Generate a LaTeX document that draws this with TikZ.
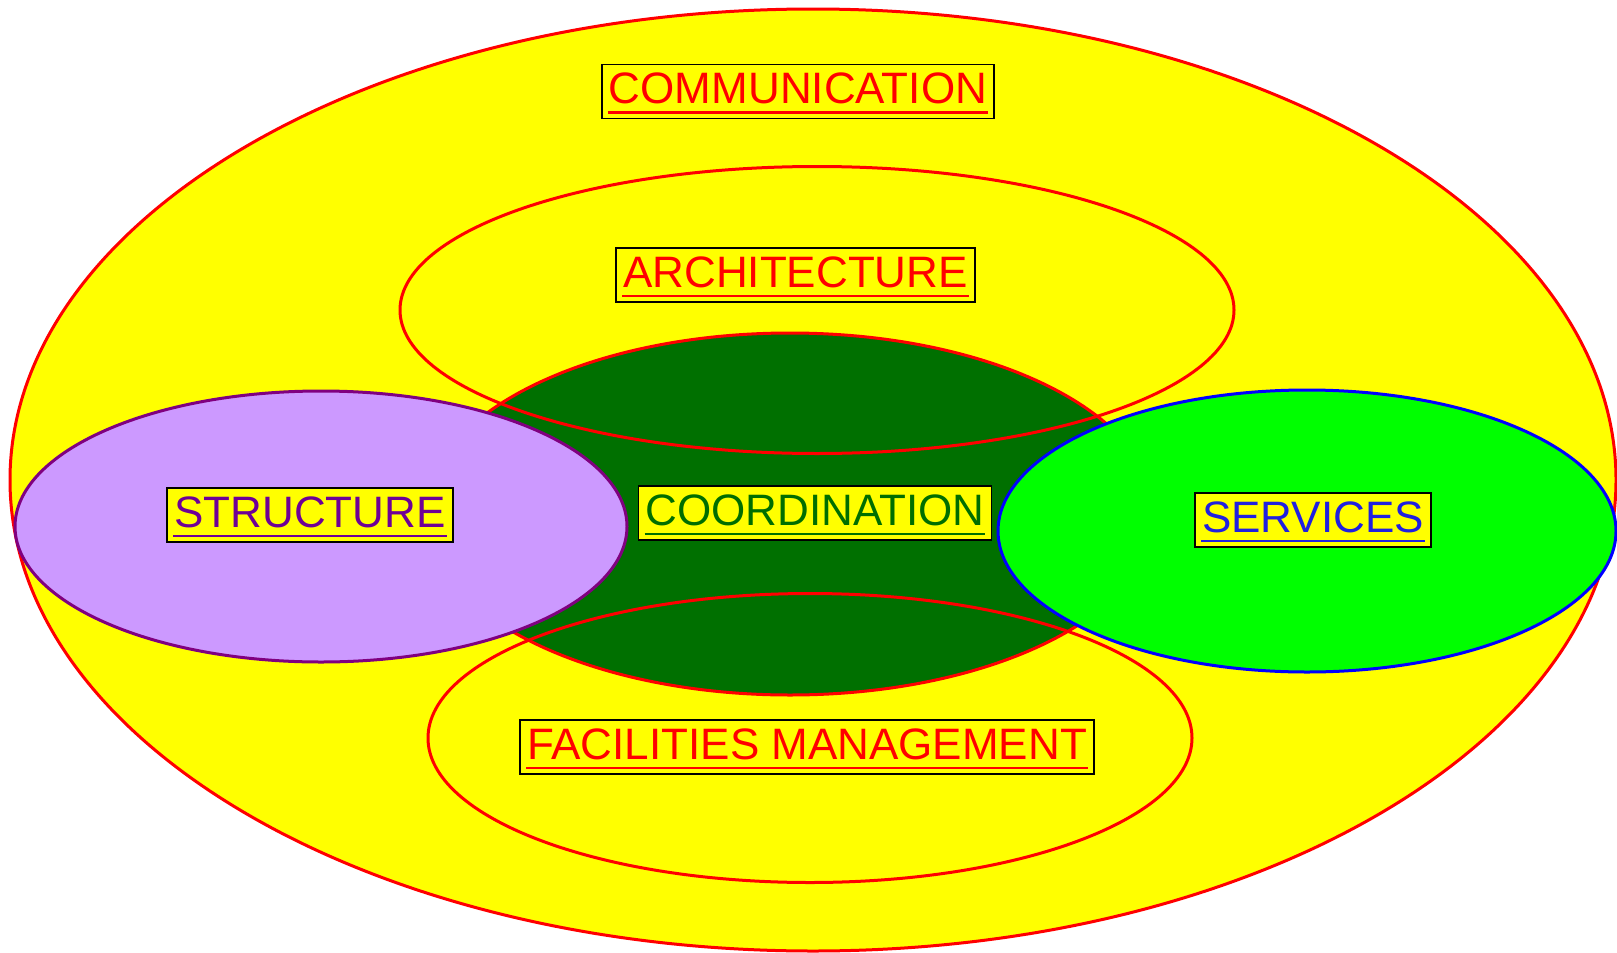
\documentclass[tikz,border=0pt]{standalone}
\usepackage{fontspec}
\setmainfont{Liberation Sans}
\usetikzlibrary{shapes.geometric}
\definecolor{yel}{RGB}{255,255,0}
\definecolor{redl}{RGB}{255,0,0}
\definecolor{dkgreen}{RGB}{0,112,0}
\definecolor{coordtxt}{RGB}{0,110,0}
\definecolor{lilac}{RGB}{204,153,255}
\definecolor{purpedge}{RGB}{128,0,128}
\definecolor{structxt}{RGB}{110,0,150}
\definecolor{brgreen}{RGB}{0,255,0}
\definecolor{blueedge}{RGB}{0,0,255}
\definecolor{servtxt}{RGB}{32,32,224}
\begin{document}
\begin{tikzpicture}[x=0.5pt,y=-0.5pt,
  ell/.style={ellipse, inner sep=0pt, line width=1.5pt},
  lbl/.style={draw=black, line width=0.9pt, fill=yel, inner xsep=3.5pt, inner ysep=3.75pt,
    text height=15.75pt, text depth=3.75pt, font=\fontsize{22pt}{26pt}\selectfont},
  uline/.style={line width=1.2pt}]
\useasboundingbox (0,0) rectangle (1617,953);
\fill[white] (0,0) rectangle (1617,953);
% ellipses
\node[ell, draw=redl, fill=yel, minimum width=803pt, minimum height=471pt] (commE) at (813,480) {};
\node[ell, draw=redl, fill=dkgreen, minimum width=365pt, minimum height=181pt] (coordE) at (790,514) {};
\node[ell, draw=redl, minimum width=417pt, minimum height=143.5pt] (archE) at (817,310) {};
\node[ell, draw=redl, minimum width=382pt, minimum height=144.5pt] (facE) at (810,738) {};
\node[ell, draw=purpedge, fill=lilac, minimum width=306pt, minimum height=135.5pt] (strucE) at (321,526.5) {};
\node[ell, draw=blueedge, fill=brgreen, minimum width=309pt, minimum height=141pt] (servE) at (1307,531) {};
% labels
\node[lbl, text=redl] (commL) at (798,91.5) {COMMUNICATION};
\node[lbl, text=redl] (archL) at (795.5,275) {ARCHITECTURE};
\node[lbl, text=structxt] (strucL) at (310,515) {STRUCTURE};
\node[lbl, text=coordtxt] (coordL) at (815,513) {COORDINATION};
\node[lbl, text=servtxt] (servL) at (1313,520) {SERVICES};
\node[lbl, text=redl] (facL) at (807,747) {FACILITIES MANAGEMENT};
% underlines
\foreach \n/\c in {commL/redl, archL/redl, strucL/structxt, coordL/coordtxt, servL/servtxt, facL/redl}{
  \draw[uline, \c] ([xshift=3.5pt,yshift=3.5pt]\n.south west) -- ([xshift=-3.5pt,yshift=3.5pt]\n.south east);
}
\end{tikzpicture}
\end{document}
